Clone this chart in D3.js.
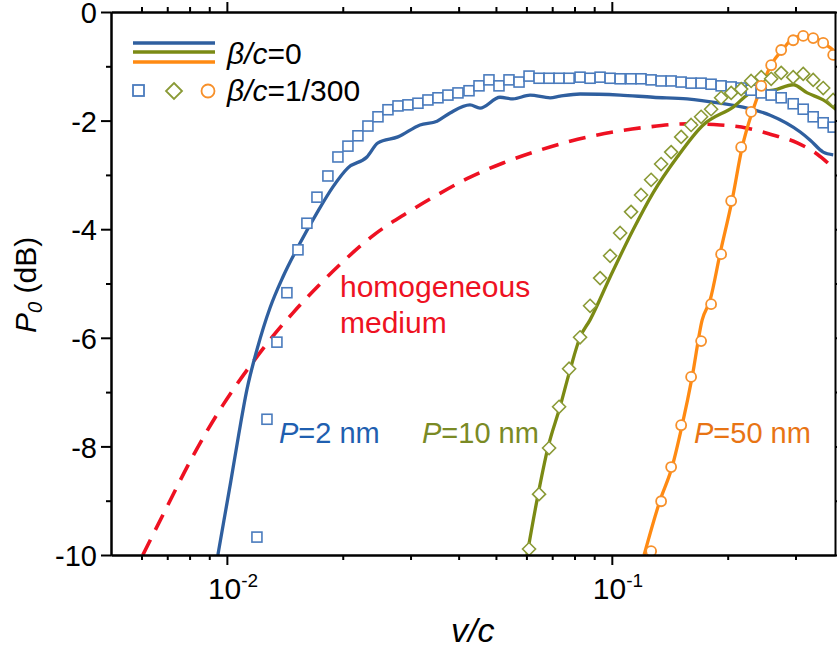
<!DOCTYPE html>
<html>
<head>
<meta charset="utf-8">
<script src="https://cdn.jsdelivr.net/npm/d3@7"></script>
<style>
  body { margin: 0; background: #fff; }
  svg { display: block; font-family: "Liberation Sans", Arial, Helvetica, sans-serif; }
  .axis path, .axis line { stroke: #000; stroke-width: 2; }
</style>
</head>
<body>
<svg id="chart" width="837" height="648"></svg>
<script>
// ── Data (v/c, P0 in dB) ─────────────────────────────────────────────
var BLUE_LINE_V  = [0.009476, 0.009822, 0.01024, 0.01074, 0.01127, 0.01197, 0.01294, 0.01398, 0.01548, 0.01714,
                    0.01886, 0.02063, 0.02311, 0.02469, 0.02782, 0.03175, 0.03515, 0.03800, 0.04281, 0.04546,
                    0.05124, 0.05537, 0.06133, 0.06913, 0.07337, 0.08272, 0.1051, 0.1280, 0.1569, 0.1912,
                    0.2247, 0.2579, 0.3087, 0.3277, 0.3541, 0.3760];
var BLUE_LINE_DB = [-10, -9.37, -8.64, -7.77, -6.96, -6.22, -5.45, -4.88, -4.26, -3.70,
                    -3.22, -2.87, -2.67, -2.41, -2.30, -2.08, -2.01, -1.86, -1.71, -1.77,
                    -1.57, -1.60, -1.53, -1.58, -1.55, -1.51, -1.53, -1.57, -1.60, -1.68,
                    -1.77, -1.90, -2.21, -2.36, -2.58, -2.63];

var OLIVE_LINE_V  = [0.06022, 0.06392, 0.06831, 0.07337, 0.07790, 0.08270, 0.08781, 0.09899, 0.1136, 0.1280,
                     0.1479, 0.1727, 0.2067, 0.2329, 0.2626, 0.2960, 0.3219, 0.3541, 0.3828];
var OLIVE_LINE_DB = [-10, -8.99, -8.01, -7.27, -6.59, -5.99, -5.67, -4.88, -4.01, -3.33,
                     -2.67, -2.08, -1.75, -1.47, -1.44, -1.34, -1.49, -1.62, -1.80];

var ORANGE_LINE_V  = [0.1213, 0.1335, 0.1434, 0.1523, 0.1617, 0.1717, 0.1801, 0.1912, 0.2054, 0.2181,
                      0.2316, 0.2459, 0.2611, 0.2772, 0.2941, 0.3142, 0.3335, 0.3541, 0.3759];
var ORANGE_LINE_DB = [-10, -8.99, -8.38, -7.61, -6.72, -5.67, -5.30, -4.44, -3.46, -2.49,
                      -1.84, -1.34, -0.94, -0.70, -0.50, -0.44, -0.46, -0.57, -0.70];

var HOMO_V  = [0.006048, 0.007026, 0.008158, 0.009763, 0.01168, 0.01317, 0.01485, 0.01724, 0.02001, 0.02425,
               0.02937, 0.03514, 0.04205, 0.05218, 0.06393, 0.07791, 0.1008, 0.1235, 0.1569, 0.1912,
               0.2247, 0.2579, 0.3032, 0.3418, 0.3693];
var HOMO_DB = [-10, -9.08, -8.18, -7.24, -6.45, -5.97, -5.54, -5.05, -4.60, -4.09,
               -3.70, -3.37, -3.07, -2.78, -2.56, -2.38, -2.21, -2.12, -2.06, -2.08,
               -2.14, -2.25, -2.41, -2.62, -2.82];

var SQUARE_V  = [0.01197, 0.01271, 0.01349, 0.01432, 0.01530, 0.01614, 0.01714, 0.01830, 0.01943, 0.02063,
                 0.02190, 0.02325, 0.02469, 0.02621, 0.02783, 0.02954, 0.03136, 0.03329, 0.03535, 0.03752,
                 0.03984, 0.04256, 0.04518, 0.04796, 0.05092, 0.05406, 0.05741, 0.06095, 0.06471, 0.06871,
                 0.07295, 0.07745, 0.08270, 0.08781, 0.09323, 0.09898, 0.1051, 0.1122, 0.1191, 0.1265,
                 0.1343, 0.1426, 0.1514, 0.1607, 0.1706, 0.1811, 0.1923, 0.2042, 0.2168, 0.2301,
                 0.2444, 0.2594, 0.2754, 0.2959, 0.3142, 0.3335, 0.3541, 0.3759];
var SQUARE_DB = [-9.67, -7.50, -6.08, -5.17, -4.38, -3.89, -3.41, -3.02, -2.67, -2.47,
                 -2.28, -2.10, -1.93, -1.80, -1.73, -1.71, -1.68, -1.62, -1.58, -1.53,
                 -1.49, -1.45, -1.36, -1.25, -1.36, -1.25, -1.29, -1.18, -1.22, -1.22,
                 -1.22, -1.22, -1.20, -1.22, -1.20, -1.22, -1.23, -1.23, -1.23, -1.25,
                 -1.27, -1.27, -1.29, -1.31, -1.31, -1.33, -1.36, -1.38, -1.40, -1.44,
                 -1.49, -1.53, -1.58, -1.69, -1.79, -1.93, -2.04, -2.12];

var DIAMOND_V  = [0.06095, 0.06471, 0.06871, 0.07295, 0.07745, 0.08270, 0.08781, 0.09323, 0.09898, 0.1051,
                  0.1122, 0.1191, 0.1265, 0.1343, 0.1426, 0.1514, 0.1607, 0.1706, 0.1811, 0.1923,
                  0.2042, 0.2168, 0.2301, 0.2444, 0.2594, 0.2754, 0.2959, 0.3142, 0.3335, 0.3541,
                  0.3759];
var DIAMOND_DB = [-9.89, -8.88, -8.03, -7.27, -6.57, -5.99, -5.41, -4.90, -4.49, -4.07,
                  -3.68, -3.37, -3.09, -2.80, -2.58, -2.30, -2.08, -1.93, -1.79, -1.58,
                  -1.49, -1.42, -1.27, -1.20, -1.23, -1.12, -1.20, -1.14, -1.25, -1.40,
                  -1.62];

var CIRCLE_V  = [0.1265, 0.1343, 0.1426, 0.1514, 0.1607, 0.1706, 0.1811, 0.1923, 0.2042, 0.2168,
                 0.2301, 0.2444, 0.2594, 0.2754, 0.2959, 0.3142, 0.3335, 0.3541, 0.3759];
var CIRCLE_DB = [-9.93, -9.01, -8.38, -7.61, -6.72, -6.06, -5.38, -4.46, -3.48, -2.49,
                 -1.84, -1.36, -0.98, -0.70, -0.52, -0.44, -0.48, -0.57, -0.79];

var X_MAJOR = [0.01, 0.1];
var X_MINOR = [0.006, 0.007, 0.008, 0.009, 0.02, 0.03, 0.04, 0.05, 0.06, 0.07, 0.08, 0.09, 0.2, 0.3];
var Y_MAJOR = [0, -2, -4, -6, -8, -10];
var Y_MINOR = [-1, -3, -5, -7, -9];

// ── Colours ──────────────────────────────────────────────────────────
var BLUE = "#2f5f9f", BLUE_MK = "#4a7bbd", BLUE_TXT = "#1f5fb0";
var OLIVE = "#7b8a14", OLIVE_MK = "#8a9a36", OLIVE_TXT = "#7a8a25";
var ORANGE = "#ff8a12", ORANGE_MK = "#f7902a", ORANGE_TXT = "#e87414";
var RED = "#ee1122";
var FONT = "'Liberation Sans', Arial, Helvetica, sans-serif";

var LEFT = 111, RIGHT = 835, TOP = 12, BOTTOM = 555;

var svg = d3.select("#chart");

var x = d3.scaleLog().domain([0.005, 0.38]).range([LEFT, RIGHT]);
var y = d3.scaleLinear().domain([-10, 0]).range([BOTTOM, TOP]);

function zip(xs, ys) { return xs.map(function (v, i) { return [v, ys[i]]; }); }

svg.append("defs").append("clipPath").attr("id", "plot-clip")
  .append("rect")
  .attr("x", LEFT).attr("y", TOP)
  .attr("width", RIGHT - LEFT).attr("height", BOTTOM - TOP);

var plot = svg.append("g").attr("clip-path", "url(#plot-clip)");

var line = d3.line()
  .x(function (d) { return x(d[0]); })
  .y(function (d) { return y(d[1]); })
  .curve(d3.curveMonotoneX);

// ── Curves ───────────────────────────────────────────────────────────
plot.append("path").datum(zip(HOMO_V, HOMO_DB))
  .attr("d", line).attr("fill", "none")
  .attr("stroke", RED).attr("stroke-width", 3.6)
  .attr("stroke-dasharray", "17,11");

plot.append("path").datum(zip(BLUE_LINE_V, BLUE_LINE_DB))
  .attr("d", line).attr("fill", "none")
  .attr("stroke", BLUE).attr("stroke-width", 3.3);

plot.append("path").datum(zip(OLIVE_LINE_V, OLIVE_LINE_DB))
  .attr("d", line).attr("fill", "none")
  .attr("stroke", OLIVE).attr("stroke-width", 3.3);

plot.append("path").datum(zip(ORANGE_LINE_V, ORANGE_LINE_DB))
  .attr("d", line).attr("fill", "none")
  .attr("stroke", ORANGE).attr("stroke-width", 3.3);

// ── Markers ──────────────────────────────────────────────────────────
plot.selectAll(".sq").data(zip(SQUARE_V, SQUARE_DB)).enter()
  .append("rect").attr("class", "sq")
  .attr("x", function (d) { return x(d[0]) - 5; })
  .attr("y", function (d) { return y(d[1]) - 5; })
  .attr("width", 10).attr("height", 10)
  .attr("fill", "#fff").attr("stroke", BLUE_MK).attr("stroke-width", 1.6);

plot.selectAll(".dm").data(zip(DIAMOND_V, DIAMOND_DB)).enter()
  .append("path").attr("class", "dm")
  .attr("transform", function (d) { return "translate(" + x(d[0]) + "," + y(d[1]) + ")"; })
  .attr("d", "M0,-6.5L6.5,0L0,6.5L-6.5,0Z")
  .attr("fill", "#fff").attr("stroke", OLIVE_MK).attr("stroke-width", 1.6);

plot.selectAll(".ci").data(zip(CIRCLE_V, CIRCLE_DB)).enter()
  .append("circle").attr("class", "ci")
  .attr("cx", function (d) { return x(d[0]); })
  .attr("cy", function (d) { return y(d[1]); })
  .attr("r", 5)
  .attr("fill", "#fff").attr("stroke", ORANGE_MK).attr("stroke-width", 1.8);

// ── Axes ─────────────────────────────────────────────────────────────
function noLabel() { return ""; }

svg.append("g").attr("class", "axis").attr("transform", "translate(0," + BOTTOM + ")")
  .call(d3.axisBottom(x).tickValues(X_MINOR).tickSize(5).tickSizeOuter(0).tickFormat(noLabel));
svg.append("g").attr("class", "axis").attr("transform", "translate(0," + BOTTOM + ")")
  .call(d3.axisBottom(x).tickValues(X_MAJOR).tickSize(10).tickSizeOuter(0).tickFormat(noLabel));
svg.append("g").attr("class", "axis").attr("transform", "translate(0," + TOP + ")")
  .call(d3.axisTop(x).tickValues(X_MINOR).tickSize(5).tickSizeOuter(0).tickFormat(noLabel));
svg.append("g").attr("class", "axis").attr("transform", "translate(0," + TOP + ")")
  .call(d3.axisTop(x).tickValues(X_MAJOR).tickSize(10).tickSizeOuter(0).tickFormat(noLabel));

svg.append("g").attr("class", "axis").attr("transform", "translate(" + LEFT + ",0)")
  .call(d3.axisLeft(y).tickValues(Y_MINOR).tickSize(5).tickSizeOuter(0).tickFormat(noLabel));
var yAxis = svg.append("g").attr("class", "axis").attr("transform", "translate(" + LEFT + ",0)")
  .call(d3.axisLeft(y).tickValues(Y_MAJOR).tickSize(10).tickSizeOuter(0).tickPadding(4)
    .tickFormat(function (d) { return String(d); }));
yAxis.selectAll("text")
  .attr("font-size", 29).attr("font-family", FONT).attr("fill", "#000").attr("dy", "0.37em");

svg.append("g").attr("class", "axis").attr("transform", "translate(" + RIGHT + ",0)")
  .call(d3.axisRight(y).tickValues(Y_MINOR.concat(Y_MAJOR)).tickSize(8).tickSizeOuter(0).tickFormat(noLabel));

// x tick labels as 10^n
var xl = svg.selectAll(".xlab").data(X_MAJOR).enter()
  .append("text").attr("class", "xlab")
  .attr("x", function (d) { return x(d) - 19; })
  .attr("y", 599)
  .attr("font-size", 30);
xl.append("tspan").text("10");
xl.append("tspan").attr("dy", -12).attr("font-size", 19)
  .text(function (d) { return String(Math.round(Math.log10(d))); });

// axis titles
svg.append("text")
  .attr("x", 451).attr("y", 642)
  .attr("font-size", 34).attr("font-style", "italic")
  .text("v/c");

var yt = svg.append("text")
  .attr("transform", "translate(36,333) rotate(-90)")
  .attr("font-size", 30);
yt.append("tspan").attr("font-style", "italic").text("P");
yt.append("tspan").attr("font-style", "italic").attr("font-size", 20).attr("dy", 6).text("0");
yt.append("tspan").attr("dy", -6).text(" (dB)");

// ── Legend ───────────────────────────────────────────────────────────
var legendColors = [BLUE, OLIVE, ORANGE];
var legendY = [43, 52, 62];
svg.selectAll(".legline").data(legendColors).enter()
  .append("line").attr("class", "legline")
  .attr("x1", 133).attr("x2", 215)
  .attr("y1", function (d, i) { return legendY[i]; })
  .attr("y2", function (d, i) { return legendY[i]; })
  .attr("stroke", function (d) { return d; })
  .attr("stroke-width", 3.5);

svg.append("rect").attr("x", 133).attr("y", 85).attr("width", 11).attr("height", 11)
  .attr("fill", "#fff").attr("stroke", BLUE_MK).attr("stroke-width", 1.8);
svg.append("path").attr("transform", "translate(174,91)").attr("d", "M0,-8L8,0L0,8L-8,0Z")
  .attr("fill", "#fff").attr("stroke", OLIVE_MK).attr("stroke-width", 1.8);
svg.append("circle").attr("cx", 208).attr("cy", 91).attr("r", 6.5)
  .attr("fill", "#fff").attr("stroke", ORANGE_MK).attr("stroke-width", 1.8);

var lt1 = svg.append("text").attr("x", 227).attr("y", 64).attr("font-size", 30);
lt1.append("tspan").attr("font-style", "italic").text("β/c");
lt1.append("tspan").text("=0");
var lt2 = svg.append("text").attr("x", 227).attr("y", 101).attr("font-size", 30);
lt2.append("tspan").attr("font-style", "italic").text("β/c");
lt2.append("tspan").text("=1/300");

// ── Annotations ──────────────────────────────────────────────────────
svg.append("text").attr("x", 340).attr("y", 297).attr("font-size", 30).attr("fill", RED).text("homogeneous");
svg.append("text").attr("x", 340).attr("y", 333).attr("font-size", 30).attr("fill", RED).text("medium");

function pLabel(px, color, value) {
  var t = svg.append("text").attr("x", px).attr("y", 443).attr("font-size", 29).attr("fill", color);
  t.append("tspan").attr("font-style", "italic").text("P");
  t.append("tspan").text("=" + value + " nm");
}
pLabel(279, BLUE_TXT, 2);
pLabel(422, OLIVE_TXT, 10);
pLabel(694, ORANGE_TXT, 50);
</script>
</body>
</html>
